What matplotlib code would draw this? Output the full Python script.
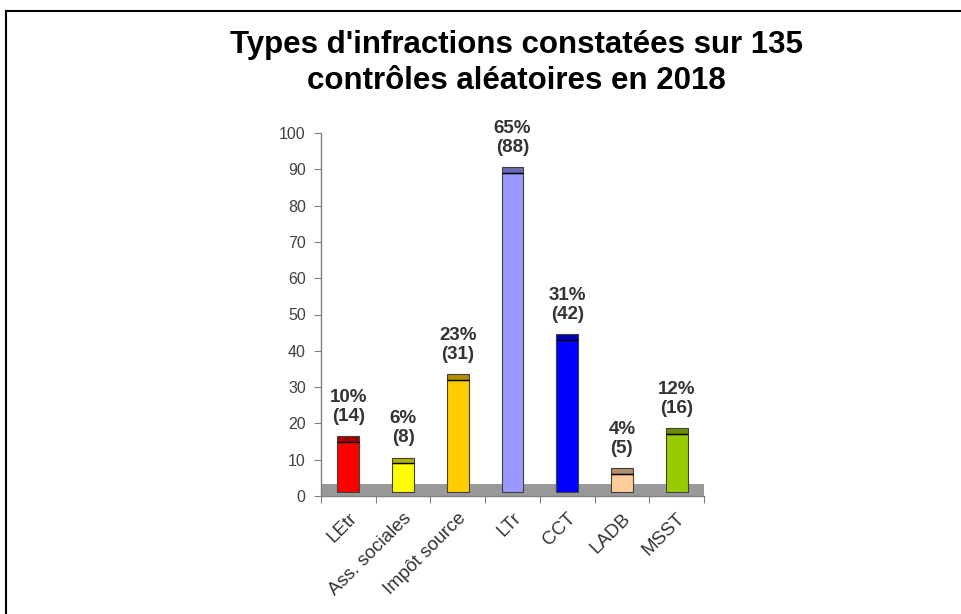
import matplotlib
matplotlib.use("Agg")
import matplotlib.pyplot as plt
from matplotlib.lines import Line2D

plt.rcParams['font.family'] = ['Liberation Sans', 'DejaVu Sans']

# donnees
categories = ["LEtr", "Ass. sociales", "Impôt source", "LTr", "CCT", "LADB", "MSST"]
nombres = [14, 8, 31, 88, 42, 5, 16]
pourcents = [10, 6, 23, 65, 31, 4, 12]
couleurs = ["#FF0000", "#FFFF00", "#FFCC00", "#9999FF", "#0000FF", "#FFCC99", "#99CC00"]
couleurs_haut = ["#A30000", "#B3B300", "#B38F00", "#6B6BB3", "#0000B3", "#B38F6B", "#6B8F00"]

base = 1.0      # les barres partent du "sol"
chapeau = 1.6   # epaisseur du dessus 3D
largeur = 0.4

fig = plt.figure(figsize=(9.62, 6.14), dpi=100)
ax = fig.add_axes([321 / 962, 118 / 614, 383 / 962, 363 / 614])

# sol gris
ax.axhspan(0, 3.3, xmin=0, xmax=1, color="#999999", zorder=1, lw=0)

x = list(range(len(categories)))
ax.bar(x, nombres, bottom=base, width=largeur, color=couleurs,
       edgecolor="#404040", linewidth=0.8, zorder=2)
tops = [n + base for n in nombres]
ax.bar(x, [chapeau] * len(x), bottom=tops, width=largeur, color=couleurs_haut,
       edgecolor="#404040", linewidth=0.8, zorder=2)
ax.hlines(tops, [i - largeur / 2 for i in x], [i + largeur / 2 for i in x],
          color="black", linewidth=1.0, zorder=3)

for i, (n, p) in enumerate(zip(nombres, pourcents)):
    ax.annotate(f"{p}%\n({n})", (i, n + base + chapeau), xytext=(0, 8),
                textcoords="offset points", ha="center", va="bottom",
                fontsize=13.5, fontweight="bold", color="#333333", linespacing=1.15)

ax.set_xlim(-0.5, len(categories) - 0.5)
ax.set_ylim(0, 100)
ax.set_yticks(range(0, 101, 10))
ax.tick_params(axis="y", direction="out", length=5, color="#808080",
               labelsize=11.5, labelcolor="#404040", pad=6)

# ticks aux limites des categories, etiquettes au centre
ax.set_xticks([i - 0.5 for i in range(len(categories) + 1)])
ax.set_xticklabels([])
ax.tick_params(axis="x", which="major", direction="out", length=5, color="#808080")
ax.set_xticks(x, minor=True)
ax.set_xticklabels(categories, minor=True, rotation=45, ha="right",
                   rotation_mode="anchor", fontsize=13.5, color="#333333")
ax.tick_params(axis="x", which="minor", length=0, pad=10)

for s in ["top", "right"]:
    ax.spines[s].set_visible(False)
for s in ["left", "bottom"]:
    ax.spines[s].set_color("#808080")
    ax.spines[s].set_linewidth(1.0)

fig.text(0.537, 1 - 30 / 614, "Types d'infractions constatées sur 135\ncontrôles aléatoires en 2018",
         ha="center", va="top", fontsize=22.5, fontweight="bold", color="black", linespacing=1.28)

# cadre
fig.add_artist(Line2D([6 / 962, 1], [1 - 11 / 614, 1 - 11 / 614], color="black", lw=1.5,
                      transform=fig.transFigure))
fig.add_artist(Line2D([6 / 962, 6 / 962], [0, 1 - 11 / 614], color="black", lw=1.5,
                      transform=fig.transFigure))

fig.savefig("out.png", dpi=100)
